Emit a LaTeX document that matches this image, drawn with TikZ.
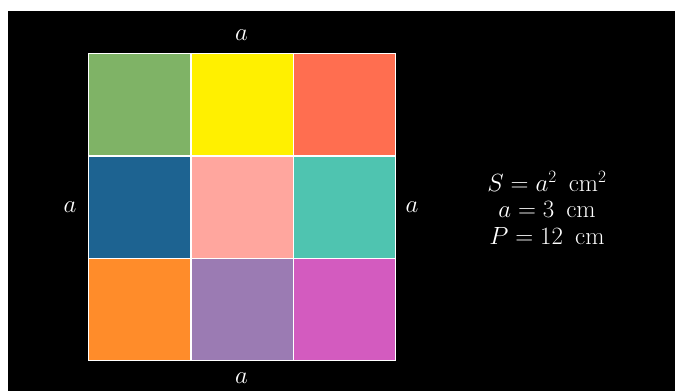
\documentclass[tikz,border=0pt]{standalone}
\usepackage{amsmath}
\definecolor{cA}{HTML}{7FB366}
\definecolor{cB}{HTML}{FFF000}
\definecolor{cC}{HTML}{FF6E50}
\definecolor{cD}{HTML}{1D6391}
\definecolor{cE}{HTML}{FFA69E}
\definecolor{cF}{HTML}{4FC4B0}
\definecolor{cG}{HTML}{FF8C2A}
\definecolor{cH}{HTML}{9B7BB3}
\definecolor{cI}{HTML}{D35BBF}
\tikzset{
  cell/.style={draw=white, line width=1.4pt, minimum width=102.33pt, minimum height=102.33pt, inner sep=0pt, anchor=north west},
  lbl/.style={text=white, font=\fontsize{24}{28}\selectfont, inner sep=0pt},
  formula/.style={text=white, font=\fontsize{26.5}{30}\selectfont, inner sep=0pt}
}
\begin{document}
\begin{tikzpicture}[x=1pt,y=-1pt]
\useasboundingbox (0,0) rectangle (675,391);
\fill[white] (0,0) rectangle (675,391);
\fill[black] (8,11) rectangle (675,391);
\node[cell, fill=cA] (c11) at (88,53) {};
\node[cell, fill=cB] (c12) at (190.33,53) {};
\node[cell, fill=cC] (c13) at (292.67,53) {};
\node[cell, fill=cD] (c21) at (88,155.33) {};
\node[cell, fill=cE] (c22) at (190.33,155.33) {};
\node[cell, fill=cF] (c23) at (292.67,155.33) {};
\node[cell, fill=cG] (c31) at (88,257.67) {};
\node[cell, fill=cH] (c32) at (190.33,257.67) {};
\node[cell, fill=cI] (c33) at (292.67,257.67) {};
\node[lbl] (top) at (241.5,35) {$a$};
\node[lbl] (bot) at (241.5,378) {$a$};
\node[lbl] (left) at (70,207) {$a$};
\node[lbl] (right) at (412,207) {$a$};
\node[formula] (f1) at (547,181) {$S=a^2\ \,\mathrm{cm}^2$};
\node[formula] (f2) at (547,209) {$a=3\ \,\mathrm{cm}$};
\node[formula] (f3) at (547,236) {$P=12\ \,\mathrm{cm}$};
\end{tikzpicture}
\end{document}
